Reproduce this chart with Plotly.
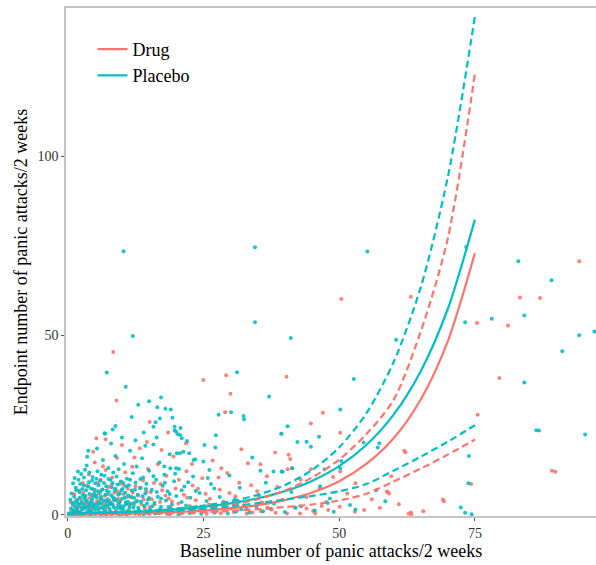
import plotly.graph_objects as go

DRUG_COLOR = "#F8766D"
PLACEBO_COLOR = "#00BFC4"

# ---------------- data: scatter points (baseline, endpoint) ----------------
placebo_pts = [
    (10.3,73.5),(34.5,74.6),(55.2,73.4),(73.4,74.7),(83,70.7),(89.1,65.4),(73.2,53.7),(78.1,54.7),
    (84.1,55.6),(94.2,50.1),(97,51.1),(91.1,45.6),(84.1,36.9),(86.3,23.6),(95.3,22.4),(73.9,16.4),
    (73.8,8.8),(72.4,2.1),(73.2,0.6),(74.4,0.2),(34.5,53.7),(12,49.9),(41.1,49.3),(60.5,48.8),
    (7.2,39.7),(10.7,35.7),(31.2,39.8),(37.1,33),(52.7,37.9),(15,31.7),(17.2,32.7),(19,29.4),
    (19.3,27.1),(16.2,25.8),(15.8,24.6),(8.8,24.8),(8.3,23.8),(6.8,22.8),(19.7,24.6),(20.8,24.2),
    (19.7,23.5),(20.3,22.5),(6.9,22.6),(3.8,17.9),(16.4,21.6),(14.3,19.3),(1.9,12.1),
    (27.8,27.9),(30.1,28.6),(32.4,27.6),(32.5,26.7),(20,23.2),(20.7,22.3),(21,21.4),(27.3,22.2),
    (40.5,24.7),(25.2,19.5),(20.1,17.2),(20.7,17.2),(21.3,17.6),(22.4,17.2),(23.2,15.3),(23.5,15.5),
    (17.8,13.5),(18.9,13),(20,13),(26.1,12.5),(35.5,12.3),(37.9,12.1),(39.4,12.1),
    (50.2,29.4),(39.4,22.6),(42.3,20.3),(44,20.4),(46.3,21.8),(57.4,20),(57.1,18.8),(41.4,13),
    (47.3,12.7),(50.4,15),(47.9,3.3),(86.8,23.5),
    (0.3,0.5),(0.6,1.8),(0.9,3.2),(1.1,0.8),(1.2,5.1),(1.4,2.4),(1.5,7.6),(1.7,1.2),(1.8,4.0),
    (2.0,9.8),(2.1,2.9),(2.2,6.3),(2.4,0.6),(2.5,11.4),(2.6,3.7),(2.8,5.5),(2.9,1.9),(3.0,8.2),
    (3.1,4.6),(3.3,2.2),(3.4,6.9),(3.5,13.8),(3.6,1.0),(3.8,3.4),(3.9,9.1),(4.0,5.8),(4.1,2.7),
    (4.3,7.4),(4.4,0.9),(4.5,4.3),(4.6,10.6),(4.8,3.0),(4.9,6.1),(5.0,1.6),(5.1,8.8),(5.3,4.9),
    (5.4,2.3),(5.5,12.2),(5.6,6.6),(5.8,3.6),(5.9,0.7),(6.0,9.5),(6.1,5.2),(6.3,2.0),(6.4,7.1),
    (6.5,15.3),(6.6,3.9),(6.8,10.9),(6.9,1.3),(7.0,5.7),(7.1,8.0),(7.3,2.6),(7.4,4.4),(7.5,13.1),
    (7.6,6.4),(7.8,1.1),(7.9,9.7),(8.0,3.3),(8.1,7.7),(8.3,5.0),(8.4,11.8),(8.5,2.1),(8.7,6.9),
    (8.8,16.4),(8.9,4.1),(9.0,0.8),(9.2,8.5),(9.3,3.0),(9.4,12.7),(9.6,5.9),(9.7,1.7),(9.8,9.3),
    (10.0,4.5),(10.1,7.2),(10.3,2.4),(10.4,14.2),(10.6,6.2),(10.7,3.5),(10.9,10.1),(11.0,1.0),
    (11.2,5.4),(11.3,8.3),(11.5,17.9),(11.6,3.1),(11.8,6.8),(12.0,11.6),(12.1,2.0),(12.3,4.7),
    (12.5,9.0),(12.7,13.5),(12.9,5.6),(13.1,1.4),(13.3,7.5),(13.5,3.7),(13.7,15.8),(13.9,10.4),
    (14.1,2.5),(14.3,6.0),(14.5,8.7),(14.8,4.2),(15.0,12.3),(15.2,1.5),(15.5,7.0),(15.8,19.6),
    (16.0,3.4),(16.3,9.8),(16.6,5.1),(16.9,14.6),(17.2,2.3),(17.5,8.1),(17.8,11.2),(18.1,4.0),
    (18.4,6.6),(18.8,16.9),(19.2,2.9),(19.6,9.4),(20.0,5.3),(20.5,12.8),(21.0,3.6),(21.5,7.9),
    (22.0,20.6),(22.6,4.8),(23.1,10.7),(23.7,2.2),(24.3,6.1),(25.0,14.9),(25.6,3.9),(26.4,8.6),
    (27.2,18.8),(28.0,5.0),(28.9,2.7),(29.8,11.0),(30.8,4.3),(31.7,7.6),(32.9,2.0),(34.0,16.0),
    (35.2,5.5),(36.5,9.0),(38.0,3.1),(39.6,12.0),(41.2,6.4),(43.0,2.4),(44.8,19.0),(46.5,8.0),
    (48.3,4.6),(50.2,13.0),(52.0,2.8),(54.5,20.2),(56.8,6.9),(58.5,3.8),
    (0.2,0.1),(0.8,0.3),(1.5,0.2),(2.3,0.1),(3.2,0.4),(4.2,0.2),(5.2,0.3),(6.2,0.1),(7.2,0.2),
    (8.2,0.4),(9.5,0.2),(10.8,0.1),(12.4,0.3),(14.0,0.2),(16.1,0.4),(18.3,0.3),(20.4,0.1),
    (22.5,0.5),(24.6,0.3),(27.0,0.6),(29.5,0.4),(31.0,0.9),(33.5,0.7),(36.0,1.0),(40.0,0.8),
    (45.5,1.2),(49.0,0.9),(53.0,1.5),
    (1.0,1.4),(1.3,3.5),(1.6,2.0),(1.9,0.9),(2.2,4.8),(2.7,1.5),(3.0,3.0),(3.3,5.3),(3.7,2.0),
    (4.1,1.3),(4.4,3.8),(4.7,2.2),(5.2,5.4),(5.6,1.5),(6.0,3.1),(6.2,4.5),(6.7,2.4),(7.2,3.7),
    (7.7,1.8),(8.2,2.9),(8.6,4.6),(9.1,2.0),(9.5,3.5),(10.2,1.6),(10.8,3.0),(11.4,2.2),(12.2,3.3),
    (13.0,2.0),(14.6,3.1),(15.6,2.4),(17.0,1.6),(18.6,2.2),(20.2,1.5),(21.8,2.6),(23.3,1.3),
    (25.2,1.9),(27.5,1.2),(29.0,2.0),(32.0,1.6),(34.8,2.3),(37.3,1.7),(42.0,2.0),
    (0.5,4.2),(0.7,6.0),(1.0,8.8),(1.3,10.3),(1.6,6.9),(1.9,3.1),(2.3,8.6),(2.5,2.1),(2.7,7.2),
    (3.0,10.4),(3.2,12.6),(3.5,4.1),(3.8,7.9),(4.0,11.8),(4.2,3.2),(4.5,9.6),(4.7,5.2),(5.0,7.0),
    (5.3,10.1),(5.5,3.0),(5.7,8.3),(6.0,6.4),(6.2,11.2),(6.5,1.9),(6.7,8.9),(7.0,4.0),(7.2,6.8),
    (7.5,10.0),(7.7,3.0),(8.0,5.5),(8.3,8.9),(8.5,4.2),(8.8,7.3),(9.0,10.7),(9.3,5.6),(9.6,2.7),
    (9.9,6.9),(10.2,9.0),(10.5,4.8),(10.8,7.9),(11.1,3.7),(11.5,9.8),(11.8,5.0),(12.4,7.0),
    (12.8,3.9),(13.4,10.0),(13.8,5.2),(14.4,7.2),(15.0,4.7),(15.8,10.8),(16.4,6.4),(17.2,4.6),
    (17.9,9.0),(18.8,5.8),(19.8,11.5),(21.0,6.9),(22.2,9.1),(23.6,6.7),(25.8,10.3),(27.0,7.4),
    (3.6,16.2),(5.4,18.5),(8.0,19.9),(10.0,21.6),(12.5,20.8),(14.0,23.0),(17.0,26.9),(18.0,29.6),
    (11.8,27.3),(13.0,30.7),(16.5,30.0),
]

drug_pts = [
    (50.4,60.2),(63.2,60.8),(94.2,70.7),(83.3,60.6),(87,60.5),(75.4,53.5),(81.1,52.8),(79.5,38.2),
    (75.5,27.9),(62,17.9),(89.2,12.3),(74.3,8.6),(58.9,6.4),(69.1,4.3),(63.2,0.7),(8.4,45.4),
    (9,31.9),(25,37.6),(29.2,38.9),(30,33.8),(40.3,38.5),(15.1,25.9),(5.3,21.4),(7,21.1),
    (29,28.6),(39.3,22.6),(21.8,20),(17.3,18.1),(32,18.3),(28.3,13),(35.5,14.1),(38.2,17.4),
    (47,28.5),(44.8,25.5),(50.2,22.9),(41,15.6),(40.5,12.7),(41.3,13),(50.2,12.1),(44.8,12.7),
    (58.8,6.5),(46.8,2.5),(89.8,12.0),(62.2,17.5),(59.2,6.0),(69.3,3.8),(63.3,0.2),
    (0.4,0.2),(0.7,1.1),(1.0,2.6),(1.3,0.4),(1.6,4.2),(1.8,1.7),(2.1,6.8),(2.3,0.9),(2.6,3.1),
    (2.8,8.9),(3.0,1.8),(3.2,5.0),(3.4,0.3),(3.7,2.9),(3.9,11.3),(4.1,4.7),(4.3,1.4),(4.6,7.2),
    (4.8,2.5),(5.0,14.6),(5.2,0.6),(5.4,3.9),(5.7,6.0),(5.9,1.9),(6.1,9.8),(6.3,3.2),(6.6,0.8),
    (6.8,5.3),(7.0,12.5),(7.2,2.1),(7.5,7.8),(7.7,4.0),(7.9,0.5),(8.2,10.4),(8.4,2.8),(8.6,6.2),
    (8.9,1.2),(9.1,15.9),(9.3,4.5),(9.6,8.6),(9.8,2.3),(10.1,0.9),(10.3,5.8),(10.6,11.9),
    (10.8,3.4),(11.1,7.3),(11.3,1.5),(11.6,4.9),(11.9,13.4),(12.2,2.6),(12.5,8.0),(12.8,0.7),
    (13.0,5.5),(13.3,18.6),(13.6,3.0),(13.9,9.6),(14.2,1.8),(14.5,6.5),(14.8,12.8),(15.1,2.2),
    (15.5,4.4),(15.9,8.9),(16.2,0.6),(16.6,14.1),(17.0,3.6),(17.4,6.9),(17.8,1.3),(18.2,10.9),
    (18.6,4.6),(19.0,2.0),(19.5,16.3),(19.9,7.4),(20.4,3.2),(20.9,0.8),(21.4,5.6),(21.9,12.2),
    (22.5,2.5),(23.0,8.2),(23.6,4.1),(24.2,1.2),(24.8,10.2),(25.4,5.9),(26.0,2.9),(26.7,15.2),
    (27.3,0.9),(28.0,7.1),(28.7,3.7),(29.4,11.7),(30.1,1.8),(30.9,5.2),(31.6,9.0),(32.4,2.6),
    (33.2,14.4),(34.0,0.7),(34.9,6.6),(35.8,3.5),(36.7,10.8),(37.6,1.5),(38.6,7.8),(39.6,4.2),
    (40.7,16.8),(41.8,2.1),(42.9,9.9),(44.0,5.0),(45.2,1.1),(46.4,7.4),(47.6,3.6),(48.9,10.6),
    (50.1,2.3),(51.5,6.0),(53.0,8.8),(54.6,1.4),(56.0,4.4),(57.5,2.0),(59.6,10.8),(61.0,3.0),
    (65.5,1.0),
    (0.9,0.1),(1.9,0.3),(2.9,0.2),(4.0,0.1),(5.1,0.4),(6.0,0.2),(7.0,0.3),(8.0,0.1),(9.0,0.3),
    (10.0,0.2),(11.5,0.4),(13.2,0.1),(15.0,0.3),(16.8,0.5),(18.8,0.2),(21.0,0.4),(23.2,0.6),
    (25.6,0.3),(28.2,0.5),(30.6,0.8),(33.0,0.4),(35.6,1.0),(38.3,0.6),(40.4,0.4),(42.8,0.4),
    (45.6,0.4),(52.9,0.9),(62.8,0.3),(48.0,1.4),(44.0,1.8),(36.8,2.0),
    (0.6,3.5),(1.2,5.8),(1.5,1.0),(2.0,2.2),(2.4,4.6),(2.9,6.1),(3.3,3.6),(3.6,8.1),(4.2,2.1),
    (4.5,5.6),(5.1,3.1),(5.6,9.0),(6.0,4.5),(6.4,7.1),(6.9,2.9),(7.3,5.7),(7.8,3.3),(8.1,8.4),
    (8.7,4.0),(9.2,6.5),(9.7,3.8),(10.4,8.3),(10.9,5.0),(11.4,2.9),(12.0,6.2),(12.6,3.7),
    (13.5,7.6),(14.0,4.3),(15.3,6.3),(16.0,3.0),(17.1,8.6),(18.0,5.4),(19.2,3.8),(20.5,9.8),
    (22.0,4.8),(24.0,7.3),(26.2,4.5),(27.8,10.4),(29.8,6.1),(31.5,3.7),(33.8,8.3),(4.7,17.6),
    (6.5,13.6),(12.3,16.0),(10.0,19.5),(14.6,20.3),(18.5,23.0),(22.9,14.2),
]

# ---------------- data: fitted curves and bands ----------------
curve_x = [0, 5, 10, 15, 20, 25, 30, 35, 40, 45, 50, 55, 60, 65, 70, 75]
drug_fit = [0.16, 0.24, 0.35, 0.53, 0.80, 1.21, 1.82, 2.75, 4.14, 6.23, 9.39, 14.2, 21.3, 32.1, 48.4, 73.0]
drug_upper = [0.18, 0.28, 0.44, 0.70, 1.10, 1.75, 2.80, 4.40, 6.80, 10.4, 15.4, 22.5, 32.0, 51.0, 77.0, 123.0]
drug_lower = [0.10, 0.15, 0.22, 0.35, 0.50, 0.75, 1.10, 1.60, 2.20, 2.90, 4.00, 5.90, 9.30, 12.9, 16.8, 21.0]
placebo_fit = [0.37, 0.53, 0.76, 1.09, 1.57, 2.25, 3.22, 4.62, 6.62, 9.49, 13.6, 19.5, 27.9, 40.0, 57.4, 82.3]
placebo_upper = [0.41, 0.59, 0.85, 1.22, 1.78, 2.60, 3.80, 5.60, 8.30, 12.5, 18.8, 28.3, 42.5, 63.3, 94.1, 139.0]
placebo_lower = [0.30, 0.45, 0.65, 0.90, 1.25, 1.75, 2.40, 3.30, 4.30, 5.30, 6.60, 8.60, 12.3, 16.2, 20.4, 25.0]

x_ticks = [0, 25, 50, 75]
y_ticks = [0, 50, 100]

SERIF = "Liberation Serif, Times New Roman, serif"

fig = go.Figure()

def add_points(pts, color, name):
    fig.add_trace(go.Scatter(
        x=[p[0] for p in pts], y=[p[1] for p in pts], mode="markers",
        marker=dict(color=color, size=4, opacity=0.9, line=dict(width=0)),
        showlegend=False, legendgroup=name, hoverinfo="skip"))

add_points(drug_pts, DRUG_COLOR, "Drug")
add_points(placebo_pts, PLACEBO_COLOR, "Placebo")

def add_curve(y, color, name, dash, show):
    fig.add_trace(go.Scatter(
        x=curve_x, y=y, mode="lines", name=name, legendgroup=name,
        line=dict(color=color, width=2.2, dash=dash, shape="spline", smoothing=0.8),
        showlegend=show))

add_curve(drug_fit, DRUG_COLOR, "Drug", "solid", True)
add_curve(placebo_fit, PLACEBO_COLOR, "Placebo", "solid", True)
add_curve(drug_upper, DRUG_COLOR, "Drug", "7px,4px", False)
add_curve(drug_lower, DRUG_COLOR, "Drug", "7px,4px", False)
add_curve(placebo_upper, PLACEBO_COLOR, "Placebo", "7px,4px", False)
add_curve(placebo_lower, PLACEBO_COLOR, "Placebo", "7px,4px", False)

axis_common = dict(
    showgrid=False, zeroline=False, showline=True, linecolor="#c4c4c4", linewidth=1.5,
    mirror=True, ticks="outside", ticklen=3, tickcolor="#555555", automargin=False,
    tickfont=dict(family=SERIF, size=14, color="#333333"),
)

fig.update_layout(
    width=596, height=565,
    margin=dict(l=66, r=0, t=8, b=49, autoexpand=False),
    paper_bgcolor="white", plot_bgcolor="white",
    font=dict(family=SERIF),
    xaxis=dict(range=[-0.3, 97.3], tickvals=x_ticks,
               title=dict(text="Baseline number of panic attacks/2 weeks",
                          font=dict(family=SERIF, size=18, color="black"), standoff=3),
               **axis_common),
    yaxis=dict(range=[-0.3, 141.3], tickvals=y_ticks,
               title=dict(text="Endpoint number of panic attacks/2 weeks",
                          font=dict(family=SERIF, size=18, color="black"), standoff=5),
               **axis_common),
    legend=dict(x=0.05, y=0.955, xanchor="left", yanchor="top",
                bgcolor="rgba(255,255,255,0)",
                font=dict(family=SERIF, size=18, color="black"),
                itemwidth=30, tracegroupgap=0),
)

fig.write_html("out.html", config={"displayModeBar": False},
               post_script="document.body.style.margin='0px';")
